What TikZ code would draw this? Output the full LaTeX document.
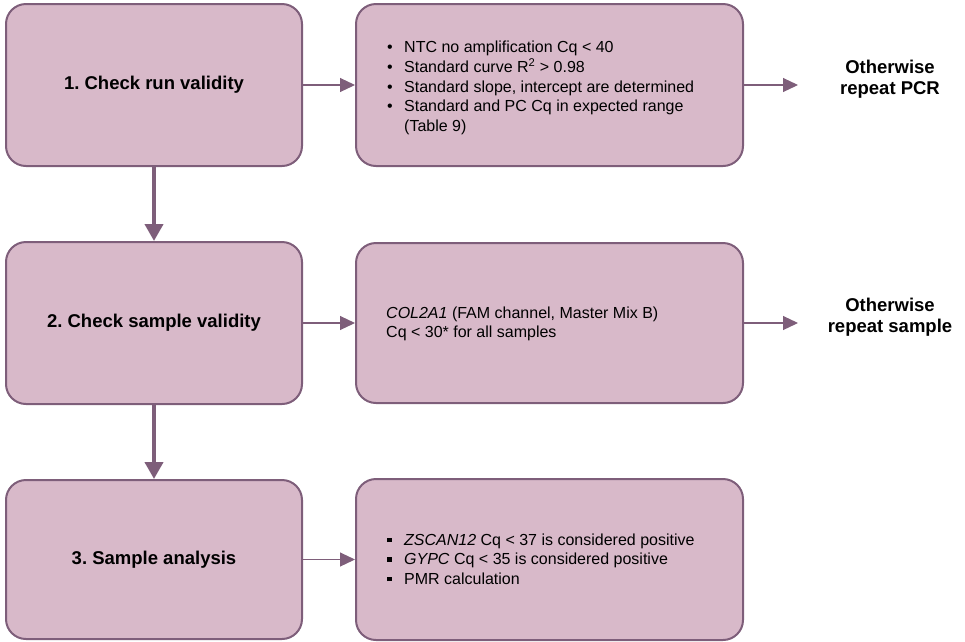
\documentclass[tikz,border=0pt]{standalone}
\usepackage{fontspec}
\setmainfont{Liberation Sans}
\usetikzlibrary{arrows.meta}
\definecolor{boxfill}{RGB}{216,185,201}
\definecolor{boxline}{RGB}{126,94,122}
\newcommand{\sqbul}{\rule[3.2pt]{4.5pt}{4.5pt}}
\frenchspacing
\begin{document}
\begin{tikzpicture}[x=1pt,y=-1pt,
  stepbox/.style={draw=boxline,line width=2pt,fill=boxfill,rounded corners=20pt,inner sep=0pt,
    font=\fontsize{18.5}{22}\selectfont\bfseries},
  bodytext/.style={inner sep=0pt,anchor=west,align=left,font=\fontsize{16}{19.5}\selectfont},
  sidetext/.style={inner sep=0pt,align=center,font=\fontsize{18.5}{21}\selectfont\bfseries},
  thinarrow/.style={draw=boxline,line width=1.1pt,-{Triangle[length=15pt,width=14pt]}},
  thickarrow/.style={draw=boxline,line width=4pt,-{Triangle[length=17pt,width=18pt]}}]
\useasboundingbox (0,0) rectangle (965,641);

% left step boxes
\node[stepbox,minimum width=296pt,minimum height=162pt] (s1) at (154,85) {1. Check run validity};
\node[stepbox,minimum width=296pt,minimum height=162pt] (s2) at (154,323) {2. Check sample validity};
\node[stepbox,minimum width=296pt,minimum height=159pt] (s3) at (154,559.5) {3. Sample analysis};

% right criteria boxes
\node[stepbox,minimum width=387pt,minimum height=162pt] (c1) at (549.5,85) {};
\node[stepbox,minimum width=387pt,minimum height=160pt] (c2) at (549.5,323) {};
\node[stepbox,minimum width=387pt,minimum height=161pt] (c3) at (549.5,559.5) {};

% criteria texts
\node[bodytext] (t1) at (387,88) {%
  \begin{tabular}{@{}p{17pt}@{}l@{}}
  \textbullet & NTC no amplification Cq < 40\\
  \textbullet & Standard curve R\textsuperscript{2} > 0.98\\
  \textbullet & Standard slope, intercept are determined\\
  \textbullet & Standard and PC Cq in expected range\\
              & (Table 9)
  \end{tabular}};
\node[bodytext] (t2) at (386,324) {\textit{COL2A1} (FAM channel, Master Mix B)\\Cq < 30* for all samples};
\node[bodytext] (t3) at (387,561) {%
  \begin{tabular}{@{}p{17pt}@{}l@{}}
  \sqbul & \textit{ZSCAN12} Cq < 37 is considered positive\\
  \sqbul & \textit{GYPC} Cq < 35 is considered positive\\
  \sqbul & PMR calculation
  \end{tabular}};

% otherwise texts
\node[sidetext] (o1) at (890,79) {Otherwise\\repeat PCR};
\node[sidetext] (o2) at (890,317) {Otherwise\\repeat sample};
\coordinate (e1) at (798,85);
\coordinate (e2) at (798,323);

% connectors
\draw[thinarrow] (s1.east) -- (c1.west);
\draw[thinarrow] (s2.east) -- (c2.west);
\draw[thinarrow] (s3.east) -- (c3.west);
\draw[thinarrow] (c1.east) -- (e1);
\draw[thinarrow] (c2.east) -- (e2);
\draw[thickarrow] (s1.south) -- (s2.north);
\draw[thickarrow] (s2.south) -- (s3.north);
\end{tikzpicture}
\end{document}
